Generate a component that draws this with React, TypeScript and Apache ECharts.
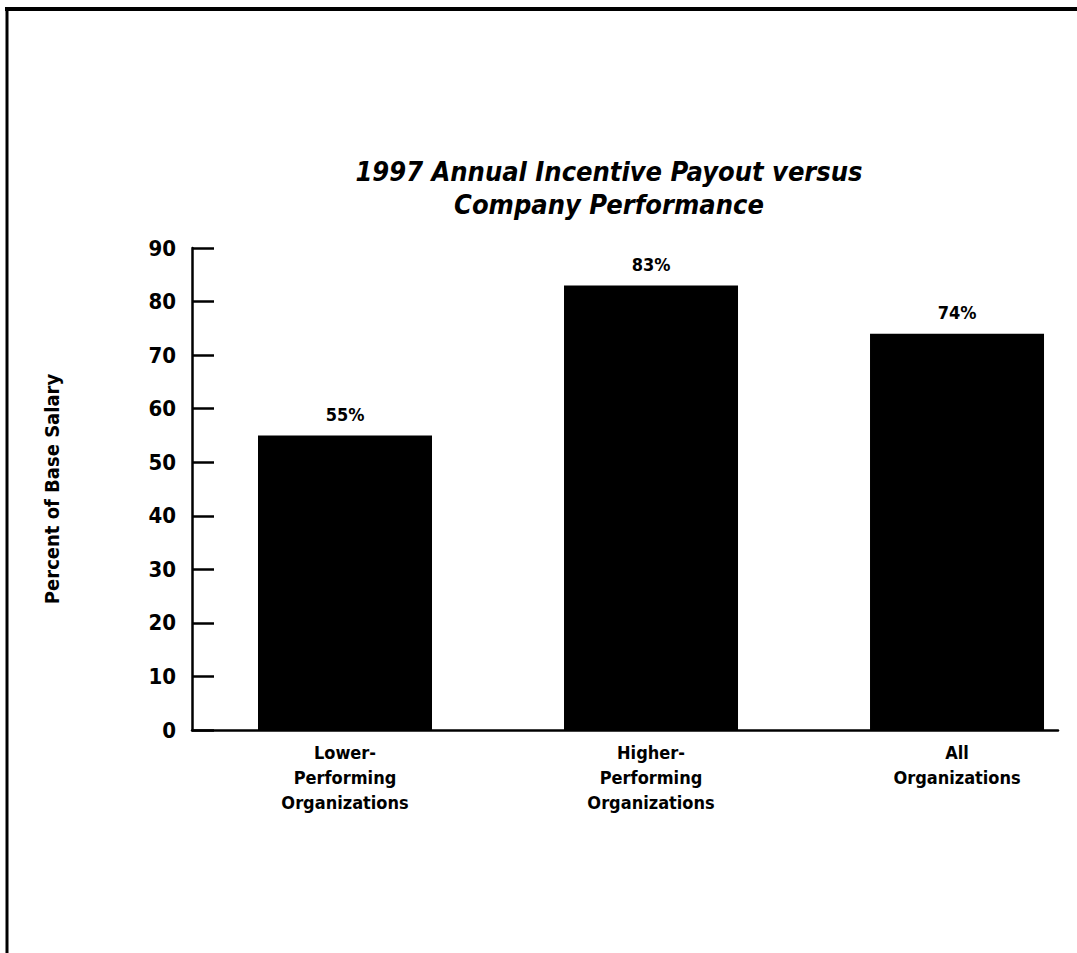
import React, { useEffect, useRef } from "react";
import * as echarts from "echarts";

const titleLines = ["1997 Annual Incentive Payout versus", "Company Performance"];
const categories = ["Lower-\nPerforming\nOrganizations", "Higher-\nPerforming\nOrganizations", "All\nOrganizations"];
const payoutValues = [55, 83, 74];
const yTicks = [0, 10, 20, 30, 40, 50, 60, 70, 80, 90];
const yAxisTitle = "Percent of Base Salary";

const FONT = "'DejaVu Sans Condensed', 'Liberation Sans Narrow', sans-serif";

export default function App() {
  const ref = useRef<HTMLDivElement>(null);
  useEffect(() => {
    if (!ref.current) return;
    const chart = echarts.init(ref.current, undefined, { renderer: "svg" });
    chart.setOption({
      animation: false,
      backgroundColor: "#ffffff",
      title: {
        text: titleLines.join("\n"),
        left: 604,
        top: 150,
        textAlign: "center",
        textStyle: {
          fontFamily: FONT,
          fontSize: 27,
          fontWeight: "bold",
          fontStyle: "italic",
          color: "#000",
          lineHeight: 33,
        },
      },
      graphic: [
        { type: "line", shape: { x1: 5, y1: 9, x2: 1077, y2: 9 }, style: { stroke: "#000", lineWidth: 4 } },
        { type: "line", shape: { x1: 7, y1: 7, x2: 7, y2: 953 }, style: { stroke: "#000", lineWidth: 3 } },
      ],
      grid: { left: 192, right: 19, top: 248, bottom: 953 - 730, containLabel: false },
      xAxis: {
        type: "value",
        min: -0.5,
        max: 2.33,
        splitLine: { show: false },
        axisLine: { show: true, onZero: false, lineStyle: { color: "#000", width: 2.5 } },
        axisTick: { show: false },
        axisLabel: {
          customValues: [0, 1, 2],
          formatter: (v: number) => categories[Math.round(v)] ?? "",
          margin: 10,
          fontFamily: FONT,
          fontSize: 18,
          fontWeight: "bold",
          lineHeight: 25,
          color: "#000",
          align: "center",
        },
      },
      yAxis: {
        type: "value",
        min: 0,
        max: 90,
        interval: 10,
        splitLine: { show: false },
        axisLine: { show: true, onZero: false, lineStyle: { color: "#000", width: 2.5 } },
        axisTick: { show: true, inside: true, length: 22, lineStyle: { color: "#000", width: 2.5 } },
        axisLabel: {
          margin: 16,
          fontFamily: FONT,
          fontSize: 22,
          fontWeight: "bold",
          color: "#000",
          customValues: yTicks,
        },
        name: yAxisTitle,
        nameLocation: "middle",
        nameRotate: 90,
        nameGap: 130,
        nameTextStyle: { fontFamily: FONT, fontSize: 20, fontWeight: "bold", color: "#000" },
      },
      series: [
        {
          type: "bar",
          barWidth: 174,
          data: payoutValues.map((v, i) => [i, v]),
          itemStyle: { color: "#000" },
          label: {
            show: true,
            position: "top",
            distance: 12,
            formatter: (p: any) => `${p.value[1]}%`,
            fontFamily: FONT,
            fontSize: 18,
            fontWeight: "bold",
            color: "#000",
          },
        },
      ],
    });
    return () => chart.dispose();
  }, []);
  return (
    <div
      ref={ref}
      style={{ position: "absolute", left: 0, top: 0, width: 1077, height: 953, background: "#fff" }}
    />
  );
}
